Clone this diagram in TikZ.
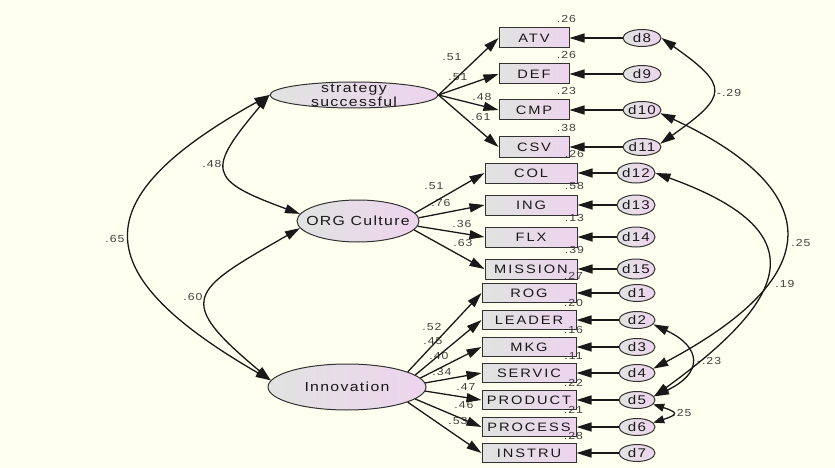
\documentclass[tikz,border=0pt]{standalone}
\usepackage{fontspec}
\usepackage{tikz}
\usetikzlibrary{arrows.meta,shapes.geometric}
\newfontfamily\amos{Liberation Sans}[FakeStretch=1.2,LetterSpace=10]
\newfontfamily\amosbox{Liberation Sans}[FakeStretch=1.2,LetterSpace=16]
\definecolor{bg}{RGB}{255,255,240}
\definecolor{shl}{RGB}{224,227,224}
\definecolor{shr}{RGB}{238,212,238}
\definecolor{edge}{RGB}{50,50,50}
\definecolor{txt}{RGB}{25,25,25}
\definecolor{num}{RGB}{65,65,65}

\begin{document}
\begin{tikzpicture}[x=1pt, y=-1pt,
  latent/.style={ellipse, draw=edge, line width=1pt, left color=shl, right color=shr, inner sep=0pt},
  latname/.style={font=\amos\fontsize{13.2}{14}\selectfont, align=center, text=txt, inner sep=0pt},
  obs/.style={rectangle, draw=edge, line width=1pt, left color=shl, right color=shr, inner sep=0pt,
    minimum height=20pt, font=\amosbox\fontsize{12.2}{12}\selectfont, text=txt},
  err/.style={latent},
  errname/.style={font=\amos\fontsize{12.6}{12}\selectfont, text=txt, inner sep=0pt},
  coef/.style={font=\amos\fontsize{10.2}{10}\selectfont, text=num, inner sep=0pt},
  path/.style={line width=1.3pt, black!90, -{Triangle[length=15pt,width=9pt]}},
  cov/.style={line width=1.3pt, black!90, {Triangle[length=15pt,width=9pt]}-{Triangle[length=15pt,width=9pt]}},
  covsmall/.style={line width=1.3pt, black!90, {Triangle[length=11pt,width=8pt]}-{Triangle[length=11pt,width=8pt]}}]
  \useasboundingbox (0,0) rectangle (835,468);
  \fill[bg] (0,0) rectangle (835,468);

  % latent factors
  \node[latent, minimum width=168pt, minimum height=26pt] (strat) at (354,95) {};
  \node[latname] (strat-t) at (strat) {strategy\\successful};
  \node[latent, minimum width=122pt, minimum height=42pt] (org) at (358,221) {};
  \node[latname] (org-t) at (org) {ORG Culture};
  \node[latent, minimum width=158pt, minimum height=46pt] (innov) at (347,387) {};
  \node[latname] (innov-t) at (innov) {Innovation};

  % observed indicators
  \foreach \n/\t/\y in {atv/ATV/38, def/DEF/74, cmp/CMP/110, csv/CSV/147}
    \node[obs, minimum width=70pt] (\n) at (534,\y) {\t};
  \foreach \n/\t/\y in {col/COL/173, ing/ING/205, flx/FLX/237, mission/MISSION/269}
    \node[obs, minimum width=92pt] (\n) at (531,\y) {\t};
  \foreach \n/\t/\y in {rog/ROG/293, leader/LEADER/320, mkg/MKG/347, servic/SERVIC/373,
      product/PRODUCT/400, process/PROCESS/427, instru/INSTRU/453}
    \node[obs, minimum width=94pt, minimum height=19pt] (\n) at (529,\y) {\t};

  % error terms
  \foreach \n/\y in {d8/38, d9/74, d10/110, d11/147}{
    \node[err, minimum width=38pt, minimum height=17pt] (\n) at (642,\y) {};
    \node[errname] (\n-t) at (\n) {\n};
  }
  \foreach \n/\y in {d12/173, d13/205, d14/237, d15/269}{
    \node[err, minimum width=38pt, minimum height=20pt] (\n) at (636,\y) {};
    \node[errname] (\n-t) at (\n) {\n};
  }
  \foreach \n/\y in {d1/293, d2/320, d3/347, d4/373, d5/400, d6/427, d7/453}{
    \node[err, minimum width=36pt, minimum height=17pt] (\n) at (637,\y) {};
    \node[errname] (\n-t) at (\n) {\n};
  }

  % loadings and squared correlations
  \foreach \x/\y/\v [count=\i] in {452/57/.51, 458/77/.51, 482/97/.48, 481/117/.61,
      434/186/.51, 441/203/.76, 462/224/.36, 463/243/.63,
      432/327/.52, 433/341/.45, 439/356/.40, 442/372/.34, 466/387/.47, 464/405/.46, 458/421/.53}
    \node[coef] (w\i) at (\x,\y) {\v};
  \foreach \n/\v in {atv/.26, def/.26, cmp/.23, csv/.38, col/.26, ing/.58, flx/.13, mission/.39}
    \node[coef] (r-\n) at ([shift={(-3,-9)}]\n.north east) {\v};
  \foreach \n/\v in {rog/.27, leader/.20, mkg/.16, servic/.11, product/.22, process/.21, instru/.28}
    \node[coef] (r-\n) at ([shift={(-3,-7.5)}]\n.north east) {\v};

  % covariance values
  \node[coef] (c1) at (115,239) {.65};
  \node[coef] (c2) at (212,164) {.48};
  \node[coef] (c3) at (193,297) {.60};
  \node[coef] (c4) at (729,93) {-.29};
  \node[coef] (c5) at (801,243) {.25};
  \node[coef] (c6) at (785,284) {.19};
  \node[coef] (c7) at (709,361) {-.23};
  \node[coef] (c8) at (682,413) {.25};

  % paths
  \foreach \d/\b in {d8/atv, d9/def, d10/cmp, d11/csv, d12/col, d13/ing, d14/flx, d15/mission,
      d1/rog, d2/leader, d3/mkg, d4/servic, d5/product, d6/process, d7/instru}
    \draw[path] (\d.west) -- (\b.east);
  \foreach \b in {atv, def, cmp, csv}
    \draw[path] (strat.east) -- (\b.west);
  \foreach \a/\b in {8/col, 3/ing, -5/flx, -9/mission}
    \draw[path] (org.\a) -- (\b.west);
  \foreach \a/\b in {14/rog, 10/leader, 7/mkg, 3/servic, -3/product, -10/process, -14/instru}
    \draw[path] (innov.\a) -- (\b.west);

  % covariances
  \draw[cov] (strat.west) .. controls +(-187,104) and +(-185,-107) .. (innov.175);
  \draw[cov] (strat.west) .. controls +(-63,75) and +(-93,-34) .. (org.173);
  \draw[cov] (org.187) .. controls +(-110,63) and +(-97,-81) .. (innov.175);
  \draw[cov] (d8.east) .. controls +(68,48) and +(68,-48) .. (d11.10);
  \draw[cov] (d10.-10) .. controls +(136,63) and +(203,-108) .. (d4.15);
  \draw[cov] (d12.east) .. controls +(161,58) and +(138,-100) .. (d5.12);
  \draw[cov] (d2.-15) .. controls +(49,23) and +(49,-23) .. (d5.12);
  \draw[covsmall] (d5.-15) .. controls +(25,8) and +(25,-8) .. (d6.15);
\end{tikzpicture}
\end{document}
